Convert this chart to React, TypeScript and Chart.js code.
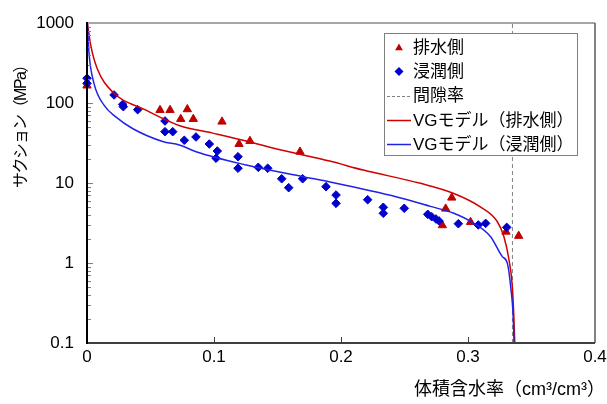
import React, { useEffect, useRef } from 'react';
import { Chart, registerables } from 'chart.js';

Chart.register(...registerables);

// ---- data ----
const xTicks = [0, 0.1, 0.2, 0.3, 0.4];
const xTickLabels = ['0', '0.1', '0.2', '0.3', '0.4'];
const yTicks = [0.1, 1, 10, 100, 1000];
const yTickLabels = ['0.1', '1', '10', '100', '1000'];

const seriesNames = ['排水側', '浸潤側', '間隙率', 'VGモデル（排水側）', 'VGモデル（浸潤側）'];
const xTitle = '体積含水率（cm³/cm³）';
const yTitle = 'サクション（MPa）';

// 排水側 (drainage) measured points
const drainX = [0, 0.0575, 0.0654, 0.079, 0.0738, 0.0837, 0.1063, 0.1197, 0.1283, 0.1677, 0.2798, 0.2824, 0.2872, 0.302, 0.3299, 0.3399];
const drainY = [165, 81.7, 81.7, 83.4, 63, 63, 58.4, 30.7, 33.5, 24.6, 2.96, 4.77, 6.55, 3.25, 2.46, 2.18];

// 浸潤側 (wetting) measured points
const wetX = [0, 0, 0.0213, 0.0281, 0.0286, 0.0399, 0.0614, 0.0614, 0.0675, 0.0766, 0.0858, 0.0963, 0.1026, 0.1016, 0.1189, 0.1189, 0.1349, 0.1423, 0.1533, 0.1588, 0.1698, 0.1882, 0.1961, 0.1961, 0.221, 0.2333, 0.2333, 0.2498, 0.2683, 0.2714, 0.2748, 0.2772, 0.2924, 0.3081, 0.3139, 0.3305];
const wetY = [204, 176, 126, 96, 90, 82.5, 59.6, 43.8, 43.8, 34.2, 37.6, 30.7, 25.1, 20.4, 21.3, 15.3, 15.7, 15.3, 11.3, 8.74, 11.3, 9.0, 7.08, 5.57, 6.18, 4.97, 4.18, 4.83, 4.06, 3.79, 3.55, 3.35, 3.1, 2.99, 3.13, 2.79];

// 間隙率 (porosity) vertical line
const porosity = 0.335;
const porosityY = [0.1, 1000];

// VG model curves
const vgDrainX = [0.0003, 0.003, 0.008, 0.02, 0.046, 0.073, 0.099, 0.1254, 0.152, 0.191, 0.2176, 0.2625, 0.2888, 0.31, 0.323, 0.3283, 0.3323, 0.3349, 0.3362, 0.3368];
const vgDrainY = [1000, 520, 270, 138, 82, 52, 42, 33.5, 26, 18.8, 14.5, 9.9, 7.4, 5, 3.3, 2.13, 1.09, 0.506, 0.194, 0.1];
const vgWetX = [0.0003, 0.0016, 0.0055, 0.0134, 0.0227, 0.0358, 0.0596, 0.0727, 0.0859, 0.1254, 0.1702, 0.1913, 0.244, 0.2704, 0.2888, 0.3046, 0.3178, 0.327, 0.331, 0.3336, 0.3357, 0.3362];
const vgWetY = [1000, 418, 176, 94, 67, 48, 33, 29.9, 24.6, 16.8, 12.0, 10.3, 6.7, 5.1, 4.18, 3.13, 2.13, 1.2, 0.99, 0.506, 0.194, 0.1];

// ---- styles ----
const FONT = "'Liberation Sans', 'Noto Sans CJK JP', sans-serif";
const RED_MARK = '#C00000';
const BLUE_MARK = '#0000CC';
const RED_LINE = '#D00000';
const BLUE_LINE = '#2222E6';
const DASH = '#808080';

const pts = (xs: number[], ys: number[]) => xs.map((x, i) => ({ x, y: ys[i] }));

function drawTriangle(ctx: CanvasRenderingContext2D, x: number, y: number, r: number) {
  ctx.beginPath();
  ctx.moveTo(x, y - r);
  ctx.lineTo(x + r * 0.866, y + r * 0.5);
  ctx.lineTo(x - r * 0.866, y + r * 0.5);
  ctx.closePath();
  ctx.fill();
}
function drawDiamond(ctx: CanvasRenderingContext2D, x: number, y: number, r: number) {
  ctx.beginPath();
  ctx.moveTo(x - r, y);
  ctx.lineTo(x, y - r);
  ctx.lineTo(x + r, y);
  ctx.lineTo(x, y + r);
  ctx.closePath();
  ctx.fill();
}

const framePlugin = {
  id: 'framePlugin',
  afterDatasetsDraw(chart: any) {
    const { ctx, chartArea: a, scales } = chart;
    const ys = scales.y;
    const xs = scales.x;
    ctx.save();
    ctx.strokeStyle = '#7F7F7F';
    ctx.lineWidth = 1;
    for (let d = -1; d < 3; d++) {
      for (let m = 1; m <= 9; m++) {
        const v = m * Math.pow(10, d);
        const py = Math.round(ys.getPixelForValue(v)) + 0.5;
        const len = m === 1 ? 6 : 4;
        ctx.beginPath();
        ctx.moveTo(a.left, py);
        ctx.lineTo(a.left + len, py);
        ctx.stroke();
      }
    }
    ctx.strokeStyle = '#404040';
    for (let i = 1; i < xTicks.length - 1; i++) {
      const px = Math.round(xs.getPixelForValue(xTicks[i])) + 0.5;
      ctx.beginPath();
      ctx.moveTo(px, a.bottom);
      ctx.lineTo(px, a.bottom - 6);
      ctx.stroke();
    }
    // frame
    ctx.lineWidth = 2;
    ctx.strokeStyle = '#A6A6A6';
    ctx.beginPath();
    ctx.moveTo(a.left, a.top);
    ctx.lineTo(a.right, a.top);
    ctx.stroke();
    ctx.lineWidth = 1.5;
    ctx.strokeStyle = '#595959';
    ctx.beginPath();
    ctx.moveTo(a.right, a.top);
    ctx.lineTo(a.right, a.bottom);
    ctx.stroke();
    ctx.lineWidth = 2;
    ctx.strokeStyle = '#404040';
    ctx.beginPath();
    ctx.moveTo(a.left, a.bottom);
    ctx.lineTo(a.right, a.bottom);
    ctx.stroke();
    ctx.strokeStyle = '#000000';
    ctx.beginPath();
    ctx.moveTo(a.left, a.top - 1);
    ctx.lineTo(a.left, a.bottom + 1);
    ctx.stroke();
    ctx.restore();
  },
  afterDraw(chart: any) {
    const { ctx } = chart;
    ctx.save();
    // axis titles
    ctx.fillStyle = '#000';
    ctx.font = `16px ${FONT}`;
    (ctx as any).letterSpacing = '-1.5px';
    ctx.textAlign = 'center';
    ctx.textBaseline = 'middle';
    ctx.translate(22, 123);
    ctx.rotate(-Math.PI / 2);
    ctx.fillText(yTitle, 0, 0);
    ctx.setTransform(1, 0, 0, 1, 0, 0);
    (ctx as any).letterSpacing = '0px';
    ctx.font = `18px ${FONT}`;
    ctx.textAlign = 'right';
    ctx.fillText(xTitle, 605, 390);

    // legend
    const L = 384, T = 33, R = 577, B = 155;
    ctx.fillStyle = '#FFFFFF';
    ctx.fillRect(L, T, R - L, B - T);
    ctx.strokeStyle = '#808080';
    ctx.lineWidth = 1;
    ctx.strokeRect(L + 0.5, T + 0.5, R - L, B - T);
    const rowY = [47, 71.5, 95.5, 120, 144];
    ctx.font = `17px ${FONT}`;
    ctx.textAlign = 'left';
    ctx.textBaseline = 'middle';
    seriesNames.forEach((name, i) => {
      const y = rowY[i];
      if (i === 0) {
        ctx.fillStyle = RED_MARK;
        drawTriangle(ctx, 399, y + 1, 4.5);
      } else if (i === 1) {
        ctx.fillStyle = BLUE_MARK;
        drawDiamond(ctx, 399, y, 4.5);
      } else {
        ctx.lineWidth = i === 2 ? 1 : 1.5;
        ctx.strokeStyle = i === 2 ? DASH : i === 3 ? RED_LINE : BLUE_LINE;
        ctx.setLineDash(i === 2 ? [3, 2] : []);
        ctx.beginPath();
        ctx.moveTo(387, Math.round(y) + 0.5);
        ctx.lineTo(411, Math.round(y) + 0.5);
        ctx.stroke();
        ctx.setLineDash([]);
      }
      ctx.fillStyle = '#000';
      ctx.fillText(name, 413, y + 1);
    });
    ctx.restore();
  },
};

export default function App() {
  const ref = useRef<HTMLCanvasElement | null>(null);
  useEffect(() => {
    if (!ref.current) return;
    const chart = new Chart(ref.current, {
      type: 'scatter',
      data: {
        datasets: [
          {
            label: seriesNames[0],
            data: pts(drainX, drainY),
            pointStyle: 'triangle',
            pointRadius: 4.8,
            pointBackgroundColor: RED_MARK,
            pointBorderColor: RED_MARK,
            pointBorderWidth: 1,
            showLine: false,
            clip: false,
            order: 5,
          },
          {
            label: seriesNames[1],
            data: pts(wetX, wetY),
            pointStyle: 'rectRot',
            pointRadius: 4.3,
            pointBackgroundColor: BLUE_MARK,
            pointBorderColor: BLUE_MARK,
            pointBorderWidth: 1,
            showLine: false,
            clip: false,
            order: 4,
          },
          {
            label: seriesNames[2],
            data: porosityY.map((y) => ({ x: porosity, y })),
            showLine: true,
            borderColor: DASH,
            borderWidth: 1,
            borderDash: [4, 3],
            pointRadius: 0,
            order: 3,
          },
          {
            label: seriesNames[3],
            data: pts(vgDrainX, vgDrainY),
            showLine: true,
            borderColor: RED_LINE,
            borderWidth: 1.5,
            pointRadius: 0,
            cubicInterpolationMode: 'monotone',
            order: 2,
          },
          {
            label: seriesNames[4],
            data: pts(vgWetX, vgWetY),
            showLine: true,
            borderColor: BLUE_LINE,
            borderWidth: 1.5,
            pointRadius: 0,
            cubicInterpolationMode: 'monotone',
            order: 1,
          },
        ],
      },
      options: {
        animation: false,
        responsive: false,
        devicePixelRatio: 1,
        layout: { padding: { top: 23, right: 12, left: 0, bottom: 0 } },
        plugins: { legend: { display: false }, tooltip: { enabled: false } },
        scales: {
          x: {
            type: 'linear',
            min: 0,
            max: 0.4,
            afterBuildTicks: (s: any) => {
              s.ticks = xTicks.map((v) => ({ value: v }));
            },
            afterFit: (s: any) => {
              s.height = 61;
              s.paddingLeft = 0;
              s.paddingRight = 0;
            },
            ticks: {
              autoSkip: false,
              maxRotation: 0,
              padding: 4,
              color: '#000',
              font: { family: FONT, size: 17 },
              callback: (_v: any, i: number) => xTickLabels[i],
            },
            grid: { display: false, drawTicks: false },
            border: { display: false },
          },
          y: {
            type: 'logarithmic',
            min: 0.1,
            max: 1000,
            afterBuildTicks: (s: any) => {
              s.ticks = yTicks.map((v) => ({ value: v }));
            },
            afterFit: (s: any) => {
              s.width = 87;
              s.paddingTop = 0;
              s.paddingBottom = 0;
            },
            ticks: {
              autoSkip: false,
              padding: 13,
              color: '#000',
              font: { family: FONT, size: 17 },
              callback: (_v: any, i: number) => yTickLabels[i],
            },
            grid: { display: false, drawTicks: false },
            border: { display: false },
          },
        },
      },
      plugins: [framePlugin],
    } as any);
    return () => chart.destroy();
  }, []);
  return (
    <div style={{ position: 'absolute', left: 0, top: 0, width: 607, height: 404, background: '#fff' }}>
      <canvas ref={ref} width={607} height={404} />
    </div>
  );
}
